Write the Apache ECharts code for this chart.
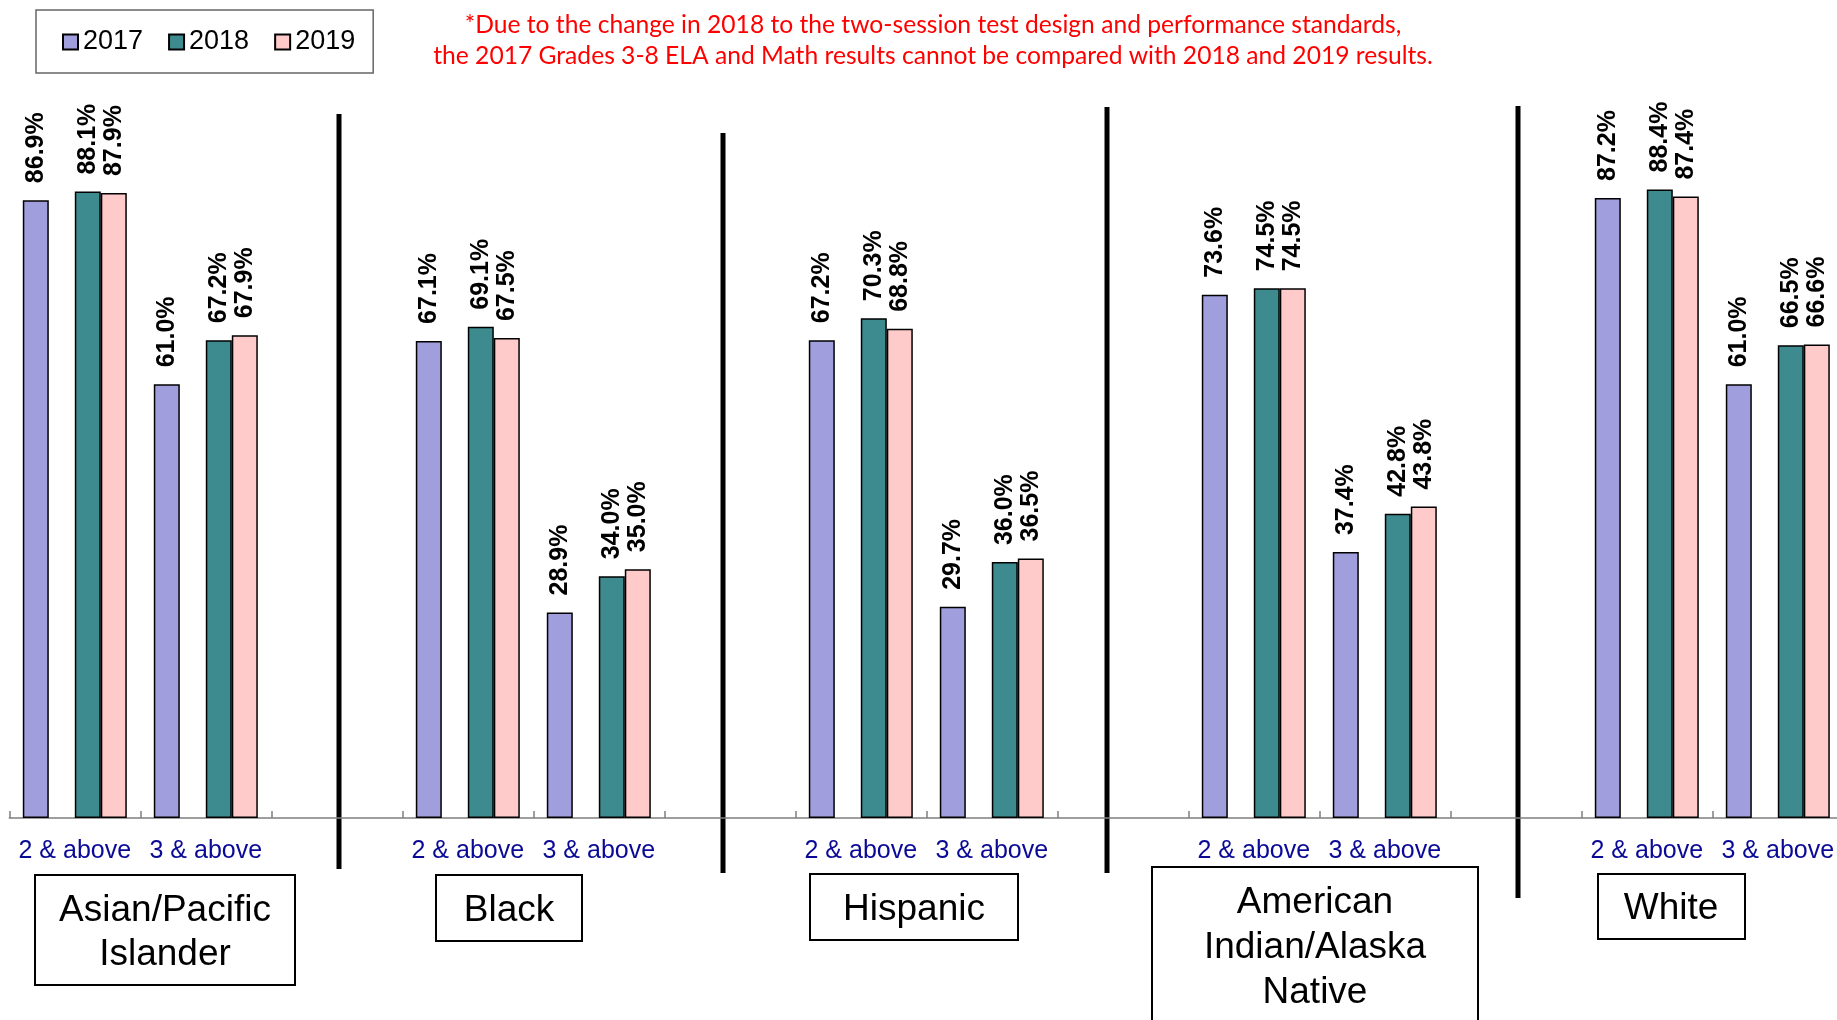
<!DOCTYPE html>
<html><head><meta charset="utf-8">
<script src="https://cdn.jsdelivr.net/npm/echarts@6/dist/echarts.min.js"></script>
<style>html,body{margin:0;padding:0;background:#fff}#c{width:1837px;height:1020px}</style>
</head><body><div id="c"></div><script>
// ---- data ----
const categories = ['2 & above','3 & above','','2 & above','3 & above','','2 & above','3 & above','','2 & above','3 & above','','2 & above','3 & above'];
const years = ['2017','2018','2019'];
const v2017 = [86.9, 61.0, null, 67.1, 28.9, null, 67.2, 29.7, null, 73.6, 37.4, null, 87.2, 61.0];
const v2018 = [88.1, 67.2, null, 69.1, 34.0, null, 70.3, 36.0, null, 74.5, 42.8, null, 88.4, 66.5];
const v2019 = [87.9, 67.9, null, 67.5, 35.0, null, 68.8, 36.5, null, 74.5, 43.8, null, 87.4, 66.6];
const spacer = [null, null, null, null, null, null, null, null, null, null, null, null, null, null];
const groupNames = ['Asian/Pacific\nIslander', 'Black', 'Hispanic', 'American\nIndian/Alaska\nNative', 'White'];
const noteLines = ['*Due to the change in 2018 to the two-session test design and performance standards,',
                   'the 2017 Grades 3-8 ELA and Math results cannot be compared with 2018 and 2019 results.'];

// ---- styling ----
const FONT = 'Liberation Sans, Arial, sans-serif';
const colors = ['#A09EDD', '#3D8B8F', '#FFCACA'];
const ctx = document.createElement('canvas').getContext('2d');
ctx.font = '100px Lato';
const noteSize = 100 * 937 / ctx.measureText(noteLines[0]).width;

const labelOpt = {
  show: true, position: 'top', distance: 16, rotate: 90, align: 'left', verticalAlign: 'middle', offset: [1, 0],
  fontFamily: FONT, fontSize: 25, fontWeight: 'bold', color: '#000',
  formatter: p => (p.value == null ? '' : p.value.toFixed(1) + '%')
};
function barSeries(name, data, color, withLabel) {
  return {
    name, type: 'bar', data, barWidth: 26, barGap: '0%',
    itemStyle: { color, borderColor: '#000', borderWidth: 1.5 },
    label: withLabel ? labelOpt : { show: false },
    emphasis: { disabled: true }, silent: true
  };
}

// group label boxes: [x, y, w, h, textCenterX, textCenterY, lineHeight]
const boxes = [
  [35, 875, 260, 110, 165, 933, 44],
  [436, 875, 146, 66, 509, 911, 44],
  [810, 874, 208, 66, 914, 910, 44],
  [1152, 867, 326, 170, 1315, 948, 45],
  [1598, 874, 147, 65, 1671, 909, 44]
];
const seps = [[339, 114, 869], [723, 133, 873], [1107, 107, 873], [1518, 106, 898]];

const graphic = [];
seps.forEach(s => graphic.push({ type: 'rect', silent: true, shape: { x: s[0] - 2.5, y: s[1], width: 5, height: s[2] - s[1] }, style: { fill: '#000' } }));
boxes.forEach((b, i) => {
  graphic.push({ type: 'rect', silent: true, shape: { x: b[0], y: b[1], width: b[2], height: b[3] }, style: { fill: '#fff', stroke: '#000', lineWidth: 2 } });
  graphic.push({ type: 'text', silent: true, style: { text: groupNames[i], x: b[4], y: b[5], textAlign: 'center', textVerticalAlign: 'middle', fontFamily: FONT, fontSize: 37, lineHeight: b[6], fill: '#000' } });
});
noteLines.forEach((t, i) => graphic.push({ type: 'text', silent: true, style: { text: t, x: 933, y: 25 + i * 31, textAlign: 'center', textVerticalAlign: 'middle', fontFamily: 'Lato', fontSize: noteSize, fill: '#ff0000' } }));

const chart = echarts.init(document.getElementById('c'), null, { renderer: 'canvas' });
chart.setOption({
  animation: false,
  backgroundColor: '#fff',
  grid: { left: 9.3, width: 1834, top: 107, bottom: 202, containLabel: false, outerBoundsMode: 'none' },
  legend: {
    data: years, left: 36, top: 10, orient: 'horizontal', icon: 'rect', itemWidth: 15, itemHeight: 15, itemGap: 25,
    padding: [17, 18, 16, 26], borderColor: '#666', borderWidth: 1.5, backgroundColor: '#fff',
    textStyle: { fontFamily: FONT, fontSize: 27, color: '#000', lineHeight: 30 },
    selectedMode: false
  },
  xAxis: {
    type: 'category', data: categories, boundaryGap: true,
    axisLine: { show: true, lineStyle: { color: '#7f7f7f', width: 1.5 } },
    axisTick: { show: true, inside: true, length: 7, interval: 0, lineStyle: { color: '#7f7f7f', width: 1.5 } },
    axisLabel: { interval: 0, margin: 21, fontFamily: FONT, fontSize: 25, color: '#0a0a96' },
    splitLine: { show: false }
  },
  yAxis: { type: 'value', min: 0, max: 100, show: false, splitLine: { show: false } },
  series: [
    barSeries('2017', v2017, colors[0], true),
    barSeries('spacer', spacer, 'transparent', false),
    barSeries('2018', v2018, colors[1], true),
    barSeries('2019', v2019, colors[2], true)
  ],
  graphic
});
</script></body></html>
